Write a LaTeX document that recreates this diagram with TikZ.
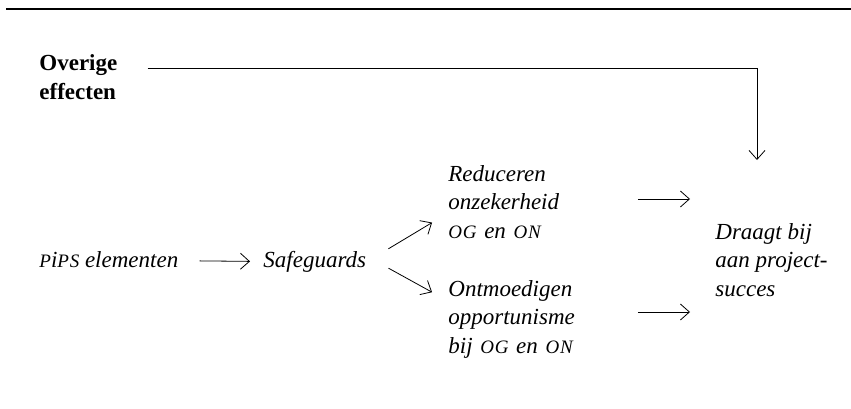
\documentclass[tikz,border=0pt]{standalone}
\usepackage{fontspec}
\setmainfont{Liberation Serif}
\usepackage{tikz}
\usetikzlibrary{arrows}
\usetikzlibrary{arrows.meta}
\newcommand{\kap}[1]{{\fontsize{9.5pt}{10pt}\selectfont\addfontfeature{LetterSpace=4}\MakeUppercase{#1}}}
\tikzset{
	main node/.style={font=\fontsize{11.5pt}{14.25pt}\selectfont\itshape,inner sep=0pt,anchor=west,align=left},
	bold node/.style={font=\fontsize{11.5pt}{14.25pt}\selectfont\bfseries,inner sep=0pt,anchor=west,align=left},
	effect node/.style={main node,text width=63pt}
}

\begin{document}
\begin{tikzpicture}[->,>={Straight Barb[length=4.5pt,width=8pt]},x=0.5pt,y=-0.5pt]
      \useasboundingbox (0,0) rectangle (851,408);
      \draw[-,line width=0.6pt] (6,9) -- (851,9);

      \node[bold node] (0) at (39,77) {Overige\\effecten};
      \node[main node] (1) at (39,260) {\kap{p}i\kap{ps} elementen};
      \node[main node] (2) at (263,262) {Safeguards};
      \node[effect node] (3) at (448,202) {Reduceren\\onzekerheid\\\kap{og} en \kap{on}};
      \node[effect node] (4) at (448,319) {Ontmoedigen\\opportunisme\\bij \kap{og} en \kap{on}};
      \node[main node] (5) at (715,260) {Draagt bij\\aan project-\\succes};
      \coordinate (6) at (757,160);

      \path[]
        (1) edge[shorten <=10.5pt,shorten >=6.5pt] (2)
        (2.east) edge[shorten <=12.8pt,shorten >=9.3pt] ([yshift=-5.5pt]3.west)
        ([yshift=3pt]2.east) edge[shorten <=12.6pt,shorten >=9.1pt] ([yshift=9pt]4.west)
        ([yshift=1.5pt]3.east) edge[shorten <=31.5pt,shorten >=12.5pt] ([yshift=1.5pt]5.west |- 3.east)
        ([yshift=3.5pt]4.east) edge[shorten <=31.5pt,shorten >=12.5pt] ([yshift=3.5pt]5.west |- 4.east);
      \draw ([shift={(30,-9)}]0.east) -| (6);
\end{tikzpicture}
\end{document}
